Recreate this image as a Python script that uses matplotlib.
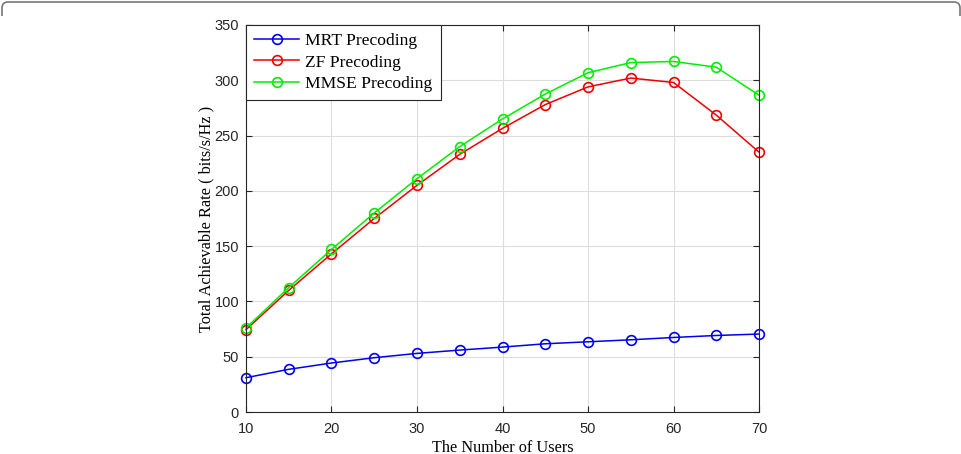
import matplotlib.pyplot as plt
from matplotlib.path import Path
from matplotlib.patches import PathPatch

# data
users = [10, 15, 20, 25, 30, 35, 40, 45, 50, 55, 60, 65, 70]
mrt = [31, 38.6, 44.3, 49.1, 53, 56, 58.7, 61.7, 63.5, 65.3, 67.4, 69.2, 70.5]
zf = [74.5, 110, 143, 175, 205, 233, 256.5, 278, 294, 302, 298, 268.5, 235]
mmse = [76, 112.5, 147, 180, 211, 240, 265, 287.5, 306.8, 316, 317, 311.8, 286.5]
labels = ['MRT Precoding', 'ZF Precoding', 'MMSE Precoding']
colors = ['#0000ee', '#ee0000', '#00ee00']

W, H = 962, 454
fig = plt.figure(figsize=(W / 100, H / 100), dpi=100)

# top edge of the rounded page frame (only the top part shows)
px = lambda x, y: (x / W, 1 - y / H)
verts = [px(2, 16), px(2, 8), px(2, 2), px(8, 2), px(954, 2), px(960, 2), px(960, 8), px(960, 16)]
codes = [Path.MOVETO, Path.LINETO, Path.CURVE3, Path.CURVE3, Path.LINETO, Path.CURVE3, Path.CURVE3, Path.LINETO]
fig.patches.append(PathPatch(Path(verts, codes), transform=fig.transFigure, fill=False,
                             edgecolor='#777777', linewidth=1.2))

ax = fig.add_axes([0.2557, 0.0925, 0.5333, 0.8525])

for y, lab, c in zip([mrt, zf, mmse], labels, colors):
    ax.plot(users, y, color=c, marker='o', markersize=7, markerfacecolor='none',
            markeredgewidth=1.2, linewidth=1.1, label=lab, clip_on=False)

ax.set_xlim(10, 70)
ax.set_ylim(0, 350)
ax.set_xticks(range(10, 71, 10))
ax.set_yticks(range(0, 351, 50))
ax.grid(True, color='#dddddd', linewidth=0.8)
ax.set_axisbelow(True)
ax.tick_params(direction='in', top=True, right=True, length=4, width=0.8, color='#262626',
               labelsize=10.5, labelcolor='#262626')
ax.tick_params(axis='x', pad=7)
ax.tick_params(axis='y', pad=5)
for lbl in ax.get_xticklabels() + ax.get_yticklabels():
    lbl.set_family('Liberation Sans')
for s in ax.spines.values():
    s.set_color('#262626')
    s.set_linewidth(0.8)

ax.set_xlabel('The Number of Users', family='Liberation Serif', fontsize=11.7, labelpad=3)
ax.set_ylabel('Total Achievable Rate ( bits/s/Hz )', family='Liberation Serif', fontsize=11.7, labelpad=0)

leg = ax.legend(loc='upper left', prop={'family': 'Liberation Serif', 'size': 12.6},
                fancybox=False, framealpha=1, edgecolor='#262626', borderaxespad=0,
                handlelength=2.6, labelspacing=0.3, borderpad=0.45, handletextpad=0.35)
leg.get_frame().set_linewidth(0.8)

fig.savefig('out.png', dpi=100)
